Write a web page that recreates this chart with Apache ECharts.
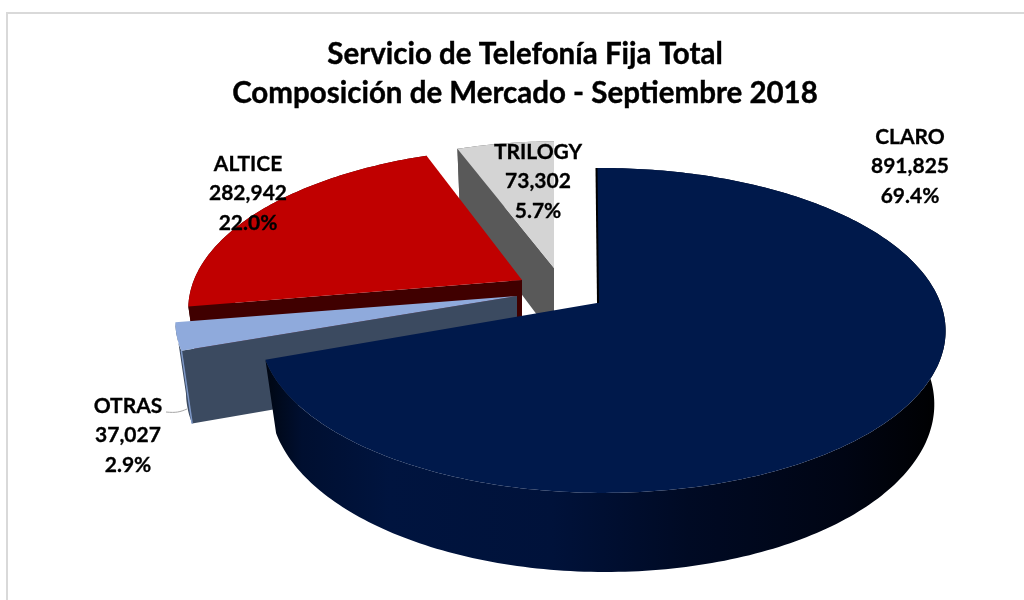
<!DOCTYPE html>
<html>
<head>
<meta charset="utf-8">
<script src="https://cdn.jsdelivr.net/npm/echarts@6/dist/echarts.min.js"></script>
<style>
    html,body{margin:0;padding:0;background:#fff;}
    #chart{width:1024px;height:600px;}
</style>
</head>
<body>
<div id="chart"></div>
<script>
    var titleText = ['Servicio de Telefonía Fija Total', 'Composición de Mercado - Septiembre 2018'];
    var categories = ['CLARO', 'OTRAS', 'ALTICE', 'TRILOGY'];
    var lines = [891825, 37027, 282942, 73302];

    // camera of the 3d pie
    var RX = 338, RY = 157.8, DEPTH = 74.3, K = 0.169, J = -0.016, H = 0.032;

    // where each slice ends up after exploding, drawn back to front by z
    var sliceStyle = [
        {ax: 597, ay: 303, ov: 0, sx: 1, sy: 1, skew: 0, z: 40, top: '#00194b'},
        {ax: 517, ay: 296, ov: 0.044, sx: 1.02, sy: 0.97, skew: 0, z: 30, top: '#8faadc', face: '#3b4a60'},
        {ax: 522, ay: 280, ov: 0.146, sx: 1.01, sy: 1, skew: 0.02, z: 20, top: '#c00000', face: '#400000'},
        {ax: 554, ay: 268, ov: 0.23, sx: 0.98, sy: 0.97, skew: 0, z: 10, top: '#d4d4d4', face: '#595959'}
    ];
    var labelPos = [[910, 137], [128, 406], [248, 164], [538, 152]];

    var total = lines.reduce(function (a, b) { return a + b; }, 0);

    function project(st, deg, r, bottom) {
        var a = deg * Math.PI / 180;
        var u = Math.sin(a) * r, v = Math.cos(a) * r;
        var s = 1 / (1 + K * (v + st.ov) + J * u + (bottom ? H : 0));
        return [
            st.ax + (u * st.sx + v * st.skew) * RX * s,
            st.ay + (-v * RY * st.sy + (bottom ? DEPTH : 0)) * s
        ];
    }

    function arc(st, from, to, bottom) {
        var pts = [], n = Math.max(2, Math.ceil(to - from));
        for (var i = 0; i <= n; i++) {
            pts.push(project(st, from + (to - from) * i / n, 1, bottom));
        }
        return pts;
    }

    function renderSlice(params, api) {
        var idx = params.dataIndex;
        var st = sliceStyle[idx];
        var before = 0;
        for (var i = 0; i < idx; i++) before += lines[i];
        var from = before / total * 360;
        var to = (before + api.value(0)) / total * 360;
        var children = [];

        // outer wall, only the front part shows since the top covers the rest
        var wall = arc(st, from, to, false).concat(arc(st, from, to, true).reverse());
        children.push({
            type: 'polygon',
            z2: st.z,
            shape: {points: wall},
            style: {
                fill: idx === 0 ? {
                    type: 'linear', x: 268, y: 0, x2: 945, y2: 0, global: true,
                    colorStops: [
                        {offset: 0, color: '#000714'},
                        {offset: 0.05, color: '#000f30'},
                        {offset: 0.18, color: '#00143f'},
                        {offset: 0.42, color: '#00123a'},
                        {offset: 0.62, color: '#000a24'},
                        {offset: 0.85, color: '#000514'},
                        {offset: 1, color: '#000000'}
                    ]
                } : (st.face || st.top)
            }
        });

        if (st.face) {
            children.push({
                type: 'polygon',
                z2: st.z + 1,
                shape: {points: [
                    project(st, from, 0, false),
                    project(st, from, 1, false),
                    project(st, from, 1, true),
                    project(st, from, 0, true)
                ]},
                style: {fill: st.face}
            });
        }

        children.push({
            type: 'polygon',
            z2: st.z + 2,
            shape: {points: [project(st, from, 0, false)].concat(arc(st, from, to, false))},
            style: {fill: st.top}
        });

        if (idx === 0) {
            // dark inner cut along the vertical edge of claro
            children.push({
                type: 'line',
                z2: st.z + 3,
                shape: {x1: st.ax + 1, y1: st.ay, x2: st.ax - 0.5, y2: project(st, 0, 1, false)[1]},
                style: {stroke: '#000', lineWidth: 2}
            });
        }
        if (idx === 1) {
            // thin lit edge and the leader line of the label
            var p1 = project(st, from, 1, false), p2 = project(st, from, 1, true);
            children.push({
                type: 'line',
                z2: st.z + 3,
                shape: {x1: p1[0], y1: p1[1], x2: p2[0], y2: p2[1]},
                style: {stroke: '#7d97c6', lineWidth: 1.5}
            });
            children.push({
                type: 'bezierCurve',
                z2: st.z + 3,
                shape: {x1: 166, y1: 412, cpx1: 176, cpy1: 413, cpx2: 180, cpy2: 412, x2: 187, y2: 409},
                style: {stroke: '#a6a6a6', lineWidth: 1, fill: null}
            });
        }

        var pos = labelPos[idx];
        var labelLines = [
            categories[idx],
            api.value(0).toLocaleString('en-US'),
            (api.value(0) / total * 100).toFixed(1) + '%'
        ];
        labelLines.forEach(function (t, j) {
            children.push({
                type: 'text',
                z2: 100,
                style: {
                    text: t,
                    x: pos[0],
                    y: pos[1] + j * 29.5,
                    align: 'center',
                    verticalAlign: 'middle',
                    fontFamily: 'Lato',
                    fontWeight: 'bold',
                    fontSize: 21,
                    fill: '#000',
                    stroke: '#000',
                    lineWidth: 0.3
                }
            });
        });

        return {type: 'group', children: children};
    }

    var myChart = echarts.init(document.getElementById('chart'), null, {renderer: 'canvas'});
    var option = {
        animation: false,
        backgroundColor: '#fff',
        title: {
            left: 520,
            top: 30,
            textAlign: 'center',
            text: titleText.join('\n'),
            textStyle: {
                color: '#000',
                fontFamily: 'Lato',
                fontWeight: 'bold',
                fontSize: 29.5,
                lineHeight: 39,
                textBorderColor: '#000',
                textBorderWidth: 0.4
            }
        },
        graphic: [
            {type: 'line', shape: {x1: 6, y1: 13, x2: 1024, y2: 13}, style: {stroke: '#d9d9d9', lineWidth: 2}},
            {type: 'line', shape: {x1: 7, y1: 13, x2: 7, y2: 600}, style: {stroke: '#d9d9d9', lineWidth: 2}}
        ],
        series: [
            {
                type: 'custom',
                coordinateSystem: 'none',
                clip: false,
                renderItem: renderSlice,
                data: lines.map(function (v) { return [v]; })
            }
        ]
    };
    myChart.setOption(option);
</script>
</body>
</html>
